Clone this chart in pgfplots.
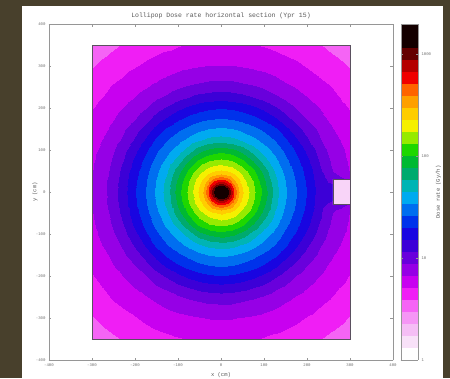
\documentclass[border=0pt]{standalone}
\usepackage{fontspec}
\setmainfont{Liberation Mono}
\usepackage{pgfplots}
\pgfplotsset{compat=1.18}
\definecolor{olivebg}{RGB}{72,64,44}
\definecolor{axgray}{RGB}{150,150,150}
\definecolor{txtgray}{RGB}{110,110,110}
\definecolor{notchpink}{RGB}{248,212,248}
\definecolor{outline}{RGB}{90,80,95}
\begin{document}
\begin{tikzpicture}[x=1pt,y=1pt]
\useasboundingbox (0,0) rectangle (450,378);
\fill[olivebg] (0,0) rectangle (450,378);
\fill[white] (22,0) rectangle (443,372);
\begin{axis}[
  at={(49pt,18pt)}, anchor=south west,
  scale only axis, width=344pt, height=336pt,
  view={0}{90},
  xmin=-400, xmax=400, ymin=-400, ymax=400,
  xtick={-400,-300,...,400}, ytick={-400,-300,...,400},
  axis line style={axgray, line width=0.6pt},
  tick style={axgray, line width=0.4pt},
  major tick length=2.5pt,
  tick label style={font=\fontsize{4}{5}\selectfont, text=txtgray},
  /pgf/number format/assume math mode=true,
  title={Lollipop Dose rate horizontal section (Ypr 15)},
  title style={font=\fontsize{6.5}{7}\selectfont, text=black!65, at={(0.5,1)}, anchor=south, yshift=-4pt},
  xlabel={x (cm)}, ylabel={y (cm)},
  label style={font=\fontsize{5.5}{6}\selectfont, text=black!65},
  xlabel style={at={(axis description cs:0.5,0)}, anchor=center, yshift=-15pt},
  ylabel style={at={(axis description cs:0,0.5)}, anchor=center, yshift=14pt},
  colormap={dose}{rgb255=(255,255,255) rgb255=(248,225,248) rgb255=(245,190,245) rgb255=(245,150,245) rgb255=(245,100,245) rgb255=(240,30,245) rgb255=(200,0,240) rgb255=(150,0,230) rgb255=(105,0,220) rgb255=(60,0,215) rgb255=(25,5,225) rgb255=(0,50,235) rgb255=(0,110,240) rgb255=(0,170,240) rgb255=(0,180,180) rgb255=(0,170,110) rgb255=(0,185,50) rgb255=(30,215,0) rgb255=(150,235,0) rgb255=(245,240,0) rgb255=(255,205,0) rgb255=(255,160,0) rgb255=(255,100,0) rgb255=(240,0,0) rgb255=(180,0,0) rgb255=(100,0,0) rgb255=(20,0,0) rgb255=(20,0,0)},
  colormap access=piecewise constant,
  point meta min=0, point meta max=3.3,
  colorbar,
  colorbar shift/.style={xshift=8pt},
  colorbar style={
    at={(parent axis.north east)}, anchor=north west,
    width=17pt,
    ytick={0,1,2,3}, yticklabels={1,10,100,1000},
    axis line style={axgray, line width=0.6pt},
    tick style={axgray, line width=0.4pt},
    major tick length=2pt,
    tick label style={font=\fontsize{4}{5}\selectfont, text=txtgray},
    ylabel={Dose rate (Gy/h)},
    ylabel style={font=\fontsize{5.5}{6}\selectfont, text=black!65, at={(axis description cs:2.2,0.5)}, anchor=center},
  },
]
\addplot3[surf, shader=interp] coordinates {
(-300,-350,0.51) (-275,-350,0.54) (-250,-350,0.57) (-225,-350,0.60) (-200,-350,0.62) (-175,-350,0.65) (-150,-350,0.67) (-125,-350,0.68) (-100,-350,0.70) (-75,-350,0.71) (-50,-350,0.72) (-25,-350,0.72) (0,-350,0.72) (25,-350,0.72) (50,-350,0.72) (75,-350,0.71) (100,-350,0.70) (125,-350,0.68) (150,-350,0.67) (175,-350,0.65) (200,-350,0.62) (225,-350,0.60) (250,-350,0.57) (275,-350,0.54) (300,-350,0.51)

(-300,-325,0.55) (-275,-325,0.58) (-250,-325,0.61) (-225,-325,0.64) (-200,-325,0.66) (-175,-325,0.69) (-150,-325,0.71) (-125,-325,0.73) (-100,-325,0.74) (-75,-325,0.76) (-50,-325,0.77) (-25,-325,0.78) (0,-325,0.78) (25,-325,0.78) (50,-325,0.77) (75,-325,0.76) (100,-325,0.74) (125,-325,0.73) (150,-325,0.71) (175,-325,0.69) (200,-325,0.66) (225,-325,0.64) (250,-325,0.61) (275,-325,0.58) (300,-325,0.55)

(-300,-300,0.58) (-275,-300,0.62) (-250,-300,0.65) (-225,-300,0.68) (-200,-300,0.70) (-175,-300,0.73) (-150,-300,0.75) (-125,-300,0.78) (-100,-300,0.80) (-75,-300,0.81) (-50,-300,0.82) (-25,-300,0.83) (0,-300,0.83) (25,-300,0.83) (50,-300,0.82) (75,-300,0.81) (100,-300,0.80) (125,-300,0.78) (150,-300,0.75) (175,-300,0.73) (200,-300,0.70) (225,-300,0.68) (250,-300,0.65) (275,-300,0.62) (300,-300,0.58)

(-300,-275,0.62) (-275,-275,0.65) (-250,-275,0.68) (-225,-275,0.71) (-200,-275,0.74) (-175,-275,0.78) (-150,-275,0.80) (-125,-275,0.83) (-100,-275,0.85) (-75,-275,0.87) (-50,-275,0.89) (-25,-275,0.91) (0,-275,0.91) (25,-275,0.91) (50,-275,0.89) (75,-275,0.87) (100,-275,0.85) (125,-275,0.83) (150,-275,0.80) (175,-275,0.78) (200,-275,0.74) (225,-275,0.71) (250,-275,0.68) (275,-275,0.65) (300,-275,0.62)

(-300,-250,0.65) (-275,-250,0.68) (-250,-250,0.72) (-225,-250,0.75) (-200,-250,0.79) (-175,-250,0.82) (-150,-250,0.85) (-125,-250,0.89) (-100,-250,0.93) (-75,-250,0.96) (-50,-250,0.98) (-25,-250,1.00) (0,-250,1.01) (25,-250,1.00) (50,-250,0.98) (75,-250,0.96) (100,-250,0.93) (125,-250,0.89) (150,-250,0.85) (175,-250,0.82) (200,-250,0.79) (225,-250,0.75) (250,-250,0.72) (275,-250,0.68) (300,-250,0.65)

(-300,-225,0.68) (-275,-225,0.71) (-250,-225,0.75) (-225,-225,0.79) (-200,-225,0.83) (-175,-225,0.87) (-150,-225,0.93) (-125,-225,0.97) (-100,-225,1.03) (-75,-225,1.07) (-50,-225,1.11) (-25,-225,1.13) (0,-225,1.14) (25,-225,1.13) (50,-225,1.11) (75,-225,1.07) (100,-225,1.03) (125,-225,0.97) (150,-225,0.93) (175,-225,0.87) (200,-225,0.83) (225,-225,0.79) (250,-225,0.75) (275,-225,0.71) (300,-225,0.68)

(-300,-200,0.70) (-275,-200,0.74) (-250,-200,0.79) (-225,-200,0.83) (-200,-200,0.88) (-175,-200,0.94) (-150,-200,1.01) (-125,-200,1.08) (-100,-200,1.15) (-75,-200,1.21) (-50,-200,1.25) (-25,-200,1.28) (0,-200,1.29) (25,-200,1.28) (50,-200,1.25) (75,-200,1.21) (100,-200,1.15) (125,-200,1.08) (150,-200,1.01) (175,-200,0.94) (200,-200,0.88) (225,-200,0.83) (250,-200,0.79) (275,-200,0.74) (300,-200,0.70)

(-300,-175,0.73) (-275,-175,0.78) (-250,-175,0.82) (-225,-175,0.87) (-200,-175,0.94) (-175,-175,1.02) (-150,-175,1.11) (-125,-175,1.20) (-100,-175,1.28) (-75,-175,1.34) (-50,-175,1.38) (-25,-175,1.41) (0,-175,1.42) (25,-175,1.41) (50,-175,1.38) (75,-175,1.34) (100,-175,1.28) (125,-175,1.20) (150,-175,1.11) (175,-175,1.02) (200,-175,0.94) (225,-175,0.87) (250,-175,0.82) (275,-175,0.78) (300,-175,0.73)

(-300,-150,0.75) (-275,-150,0.80) (-250,-150,0.85) (-225,-150,0.93) (-200,-150,1.01) (-175,-150,1.11) (-150,-150,1.22) (-125,-150,1.32) (-100,-150,1.39) (-75,-150,1.45) (-50,-150,1.50) (-25,-150,1.54) (0,-150,1.55) (25,-150,1.54) (50,-150,1.50) (75,-150,1.45) (100,-150,1.39) (125,-150,1.32) (150,-150,1.22) (175,-150,1.11) (200,-150,1.01) (225,-150,0.93) (250,-150,0.85) (275,-150,0.80) (300,-150,0.75)

(-300,-125,0.78) (-275,-125,0.83) (-250,-125,0.89) (-225,-125,0.97) (-200,-125,1.08) (-175,-125,1.20) (-150,-125,1.32) (-125,-125,1.41) (-100,-125,1.49) (-75,-125,1.57) (-50,-125,1.64) (-25,-125,1.69) (0,-125,1.71) (25,-125,1.69) (50,-125,1.64) (75,-125,1.57) (100,-125,1.49) (125,-125,1.41) (150,-125,1.32) (175,-125,1.20) (200,-125,1.08) (225,-125,0.97) (250,-125,0.89) (275,-125,0.83) (300,-125,0.78)

(-300,-100,0.80) (-275,-100,0.85) (-250,-100,0.93) (-225,-100,1.03) (-200,-100,1.15) (-175,-100,1.28) (-150,-100,1.39) (-125,-100,1.49) (-100,-100,1.59) (-75,-100,1.71) (-50,-100,1.84) (-25,-100,1.92) (0,-100,1.96) (25,-100,1.92) (50,-100,1.84) (75,-100,1.71) (100,-100,1.59) (125,-100,1.49) (150,-100,1.39) (175,-100,1.28) (200,-100,1.15) (225,-100,1.03) (250,-100,0.93) (275,-100,0.85) (300,-100,0.80)

(-300,-75,0.81) (-275,-75,0.87) (-250,-75,0.96) (-225,-75,1.07) (-200,-75,1.21) (-175,-75,1.34) (-150,-75,1.45) (-125,-75,1.57) (-100,-75,1.71) (-75,-75,1.89) (-50,-75,2.04) (-25,-75,2.13) (0,-75,2.16) (25,-75,2.13) (50,-75,2.04) (75,-75,1.89) (100,-75,1.71) (125,-75,1.57) (150,-75,1.45) (175,-75,1.34) (200,-75,1.21) (225,-75,1.07) (250,-75,0.96) (275,-75,0.87) (300,-75,0.81)

(-300,-50,0.82) (-275,-50,0.89) (-250,-50,0.98) (-225,-50,1.11) (-200,-50,1.25) (-175,-50,1.38) (-150,-50,1.50) (-125,-50,1.64) (-100,-50,1.84) (-75,-50,2.04) (-50,-50,2.19) (-25,-50,2.32) (0,-50,2.38) (25,-50,2.32) (50,-50,2.19) (75,-50,2.04) (100,-50,1.84) (125,-50,1.64) (150,-50,1.50) (175,-50,1.38) (200,-50,1.25) (225,-50,1.11) (250,-50,0.98) (275,-50,0.89) (300,-50,0.82)

(-300,-25,0.83) (-275,-25,0.91) (-250,-25,1.00) (-225,-25,1.13) (-200,-25,1.28) (-175,-25,1.41) (-150,-25,1.54) (-125,-25,1.69) (-100,-25,1.92) (-75,-25,2.13) (-50,-25,2.32) (-25,-25,2.60) (0,-25,2.84) (25,-25,2.60) (50,-25,2.32) (75,-25,2.13) (100,-25,1.92) (125,-25,1.69) (150,-25,1.54) (175,-25,1.41) (200,-25,1.28) (225,-25,1.13) (250,-25,1.06) (275,-25,1.02) (300,-25,0.95)

(-300,0,0.83) (-275,0,0.91) (-250,0,1.01) (-225,0,1.14) (-200,0,1.29) (-175,0,1.42) (-150,0,1.55) (-125,0,1.71) (-100,0,1.96) (-75,0,2.16) (-50,0,2.38) (-25,0,2.84) (0,0,3.30) (25,0,2.84) (50,0,2.38) (75,0,2.16) (100,0,1.96) (125,0,1.71) (150,0,1.55) (175,0,1.42) (200,0,1.29) (225,0,1.14) (250,0,1.14) (275,0,1.12) (300,0,1.05)

(-300,25,0.83) (-275,25,0.91) (-250,25,1.00) (-225,25,1.13) (-200,25,1.28) (-175,25,1.41) (-150,25,1.54) (-125,25,1.69) (-100,25,1.92) (-75,25,2.13) (-50,25,2.32) (-25,25,2.60) (0,25,2.84) (25,25,2.60) (50,25,2.32) (75,25,2.13) (100,25,1.92) (125,25,1.69) (150,25,1.54) (175,25,1.41) (200,25,1.28) (225,25,1.13) (250,25,1.06) (275,25,1.02) (300,25,0.95)

(-300,50,0.82) (-275,50,0.89) (-250,50,0.98) (-225,50,1.11) (-200,50,1.25) (-175,50,1.38) (-150,50,1.50) (-125,50,1.64) (-100,50,1.84) (-75,50,2.04) (-50,50,2.19) (-25,50,2.32) (0,50,2.38) (25,50,2.32) (50,50,2.19) (75,50,2.04) (100,50,1.84) (125,50,1.64) (150,50,1.50) (175,50,1.38) (200,50,1.25) (225,50,1.11) (250,50,0.98) (275,50,0.89) (300,50,0.82)

(-300,75,0.81) (-275,75,0.87) (-250,75,0.96) (-225,75,1.07) (-200,75,1.21) (-175,75,1.34) (-150,75,1.45) (-125,75,1.57) (-100,75,1.71) (-75,75,1.89) (-50,75,2.04) (-25,75,2.13) (0,75,2.16) (25,75,2.13) (50,75,2.04) (75,75,1.89) (100,75,1.71) (125,75,1.57) (150,75,1.45) (175,75,1.34) (200,75,1.21) (225,75,1.07) (250,75,0.96) (275,75,0.87) (300,75,0.81)

(-300,100,0.80) (-275,100,0.85) (-250,100,0.93) (-225,100,1.03) (-200,100,1.15) (-175,100,1.28) (-150,100,1.39) (-125,100,1.49) (-100,100,1.59) (-75,100,1.71) (-50,100,1.84) (-25,100,1.92) (0,100,1.96) (25,100,1.92) (50,100,1.84) (75,100,1.71) (100,100,1.59) (125,100,1.49) (150,100,1.39) (175,100,1.28) (200,100,1.15) (225,100,1.03) (250,100,0.93) (275,100,0.85) (300,100,0.80)

(-300,125,0.78) (-275,125,0.83) (-250,125,0.89) (-225,125,0.97) (-200,125,1.08) (-175,125,1.20) (-150,125,1.32) (-125,125,1.41) (-100,125,1.49) (-75,125,1.57) (-50,125,1.64) (-25,125,1.69) (0,125,1.71) (25,125,1.69) (50,125,1.64) (75,125,1.57) (100,125,1.49) (125,125,1.41) (150,125,1.32) (175,125,1.20) (200,125,1.08) (225,125,0.97) (250,125,0.89) (275,125,0.83) (300,125,0.78)

(-300,150,0.75) (-275,150,0.80) (-250,150,0.85) (-225,150,0.93) (-200,150,1.01) (-175,150,1.11) (-150,150,1.22) (-125,150,1.32) (-100,150,1.39) (-75,150,1.45) (-50,150,1.50) (-25,150,1.54) (0,150,1.55) (25,150,1.54) (50,150,1.50) (75,150,1.45) (100,150,1.39) (125,150,1.32) (150,150,1.22) (175,150,1.11) (200,150,1.01) (225,150,0.93) (250,150,0.85) (275,150,0.80) (300,150,0.75)

(-300,175,0.73) (-275,175,0.78) (-250,175,0.82) (-225,175,0.87) (-200,175,0.94) (-175,175,1.02) (-150,175,1.11) (-125,175,1.20) (-100,175,1.28) (-75,175,1.34) (-50,175,1.38) (-25,175,1.41) (0,175,1.42) (25,175,1.41) (50,175,1.38) (75,175,1.34) (100,175,1.28) (125,175,1.20) (150,175,1.11) (175,175,1.02) (200,175,0.94) (225,175,0.87) (250,175,0.82) (275,175,0.78) (300,175,0.73)

(-300,200,0.70) (-275,200,0.74) (-250,200,0.79) (-225,200,0.83) (-200,200,0.88) (-175,200,0.94) (-150,200,1.01) (-125,200,1.08) (-100,200,1.15) (-75,200,1.21) (-50,200,1.25) (-25,200,1.28) (0,200,1.29) (25,200,1.28) (50,200,1.25) (75,200,1.21) (100,200,1.15) (125,200,1.08) (150,200,1.01) (175,200,0.94) (200,200,0.88) (225,200,0.83) (250,200,0.79) (275,200,0.74) (300,200,0.70)

(-300,225,0.68) (-275,225,0.71) (-250,225,0.75) (-225,225,0.79) (-200,225,0.83) (-175,225,0.87) (-150,225,0.93) (-125,225,0.97) (-100,225,1.03) (-75,225,1.07) (-50,225,1.11) (-25,225,1.13) (0,225,1.14) (25,225,1.13) (50,225,1.11) (75,225,1.07) (100,225,1.03) (125,225,0.97) (150,225,0.93) (175,225,0.87) (200,225,0.83) (225,225,0.79) (250,225,0.75) (275,225,0.71) (300,225,0.68)

(-300,250,0.65) (-275,250,0.68) (-250,250,0.72) (-225,250,0.75) (-200,250,0.79) (-175,250,0.82) (-150,250,0.85) (-125,250,0.89) (-100,250,0.93) (-75,250,0.96) (-50,250,0.98) (-25,250,1.00) (0,250,1.01) (25,250,1.00) (50,250,0.98) (75,250,0.96) (100,250,0.93) (125,250,0.89) (150,250,0.85) (175,250,0.82) (200,250,0.79) (225,250,0.75) (250,250,0.72) (275,250,0.68) (300,250,0.65)

(-300,275,0.62) (-275,275,0.65) (-250,275,0.68) (-225,275,0.71) (-200,275,0.74) (-175,275,0.78) (-150,275,0.80) (-125,275,0.83) (-100,275,0.85) (-75,275,0.87) (-50,275,0.89) (-25,275,0.91) (0,275,0.91) (25,275,0.91) (50,275,0.89) (75,275,0.87) (100,275,0.85) (125,275,0.83) (150,275,0.80) (175,275,0.78) (200,275,0.74) (225,275,0.71) (250,275,0.68) (275,275,0.65) (300,275,0.62)

(-300,300,0.58) (-275,300,0.62) (-250,300,0.65) (-225,300,0.68) (-200,300,0.70) (-175,300,0.73) (-150,300,0.75) (-125,300,0.78) (-100,300,0.80) (-75,300,0.81) (-50,300,0.82) (-25,300,0.83) (0,300,0.83) (25,300,0.83) (50,300,0.82) (75,300,0.81) (100,300,0.80) (125,300,0.78) (150,300,0.75) (175,300,0.73) (200,300,0.70) (225,300,0.68) (250,300,0.65) (275,300,0.62) (300,300,0.58)

(-300,325,0.55) (-275,325,0.58) (-250,325,0.61) (-225,325,0.64) (-200,325,0.66) (-175,325,0.69) (-150,325,0.71) (-125,325,0.73) (-100,325,0.74) (-75,325,0.76) (-50,325,0.77) (-25,325,0.78) (0,325,0.78) (25,325,0.78) (50,325,0.77) (75,325,0.76) (100,325,0.74) (125,325,0.73) (150,325,0.71) (175,325,0.69) (200,325,0.66) (225,325,0.64) (250,325,0.61) (275,325,0.58) (300,325,0.55)

(-300,350,0.51) (-275,350,0.54) (-250,350,0.57) (-225,350,0.60) (-200,350,0.62) (-175,350,0.65) (-150,350,0.67) (-125,350,0.68) (-100,350,0.70) (-75,350,0.71) (-50,350,0.72) (-25,350,0.72) (0,350,0.72) (25,350,0.72) (50,350,0.72) (75,350,0.71) (100,350,0.70) (125,350,0.68) (150,350,0.67) (175,350,0.65) (200,350,0.62) (225,350,0.60) (250,350,0.57) (275,350,0.54) (300,350,0.51)
};
\addplot3[surf, shader=interp] coordinates {
(-50,-50,2.19) (-40,-50,2.25) (-30,-50,2.30) (-20,-50,2.34) (-10,-50,2.37) (0,-50,2.38) (10,-50,2.37) (20,-50,2.34) (30,-50,2.30) (40,-50,2.25) (50,-50,2.19)

(-50,-40,2.25) (-40,-40,2.31) (-30,-40,2.38) (-20,-40,2.44) (-10,-40,2.49) (0,-40,2.51) (10,-40,2.49) (20,-40,2.44) (30,-40,2.38) (40,-40,2.31) (50,-40,2.25)

(-50,-30,2.30) (-40,-30,2.38) (-30,-30,2.47) (-20,-30,2.59) (-10,-30,2.68) (0,-30,2.71) (10,-30,2.68) (20,-30,2.59) (30,-30,2.47) (40,-30,2.38) (50,-30,2.30)

(-50,-20,2.34) (-40,-20,2.44) (-30,-20,2.59) (-20,-20,2.76) (-10,-20,2.92) (0,-20,3.00) (10,-20,2.92) (20,-20,2.76) (30,-20,2.59) (40,-20,2.44) (50,-20,2.34)

(-50,-10,2.37) (-40,-10,2.49) (-30,-10,2.68) (-20,-10,2.92) (-10,-10,3.17) (0,-10,3.25) (10,-10,3.17) (20,-10,2.92) (30,-10,2.68) (40,-10,2.49) (50,-10,2.37)

(-50,0,2.38) (-40,0,2.51) (-30,0,2.71) (-20,0,3.00) (-10,0,3.25) (0,0,3.30) (10,0,3.25) (20,0,3.00) (30,0,2.71) (40,0,2.51) (50,0,2.38)

(-50,10,2.37) (-40,10,2.49) (-30,10,2.68) (-20,10,2.92) (-10,10,3.17) (0,10,3.25) (10,10,3.17) (20,10,2.92) (30,10,2.68) (40,10,2.49) (50,10,2.37)

(-50,20,2.34) (-40,20,2.44) (-30,20,2.59) (-20,20,2.76) (-10,20,2.92) (0,20,3.00) (10,20,2.92) (20,20,2.76) (30,20,2.59) (40,20,2.44) (50,20,2.34)

(-50,30,2.30) (-40,30,2.38) (-30,30,2.47) (-20,30,2.59) (-10,30,2.68) (0,30,2.71) (10,30,2.68) (20,30,2.59) (30,30,2.47) (40,30,2.38) (50,30,2.30)

(-50,40,2.25) (-40,40,2.31) (-30,40,2.38) (-20,40,2.44) (-10,40,2.49) (0,40,2.51) (10,40,2.49) (20,40,2.44) (30,40,2.38) (40,40,2.31) (50,40,2.25)

(-50,50,2.19) (-40,50,2.25) (-30,50,2.30) (-20,50,2.34) (-10,50,2.37) (0,50,2.38) (10,50,2.37) (20,50,2.34) (30,50,2.30) (40,50,2.25) (50,50,2.19)
};
\addplot3[fill=notchpink, draw=outline, line width=0.4pt] coordinates {(260,-30,4) (300,-30,4) (300,30,4) (260,30,4) (260,-30,4)};
\addplot3[draw=outline, line width=0.5pt] coordinates {(-300,-350,4) (300,-350,4) (300,-30,4) (260,-30,4) (260,30,4) (300,30,4) (300,350,4) (-300,350,4) (-300,-350,4)};
\end{axis}
\end{tikzpicture}
\end{document}
